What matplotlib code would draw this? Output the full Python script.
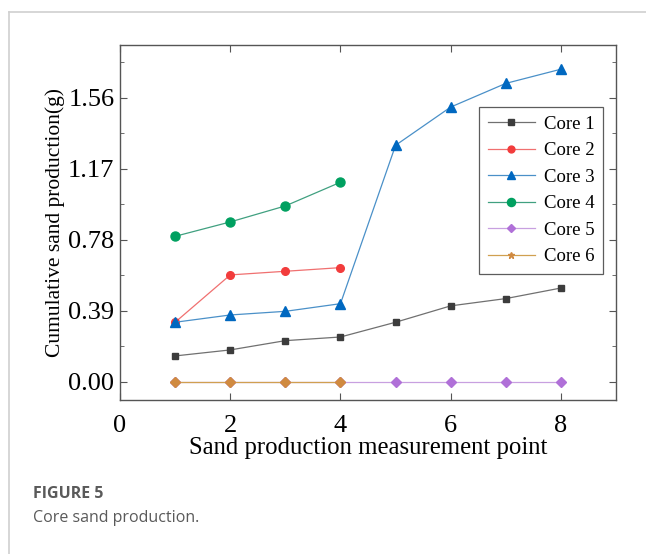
import numpy as np
import matplotlib
matplotlib.use("Agg")
import matplotlib.pyplot as plt
from matplotlib.lines import Line2D
from matplotlib.ticker import MultipleLocator

# data
points = [1, 2, 3, 4, 5, 6, 7, 8]
core1 = [0.143, 0.176, 0.227, 0.247, 0.328, 0.418, 0.458, 0.516]
core2 = [0.328, 0.588, 0.608, 0.628]
core3 = [0.328, 0.368, 0.388, 0.430, 1.300, 1.510, 1.640, 1.718]
core4 = [0.800, 0.879, 0.967, 1.097]
core5 = [0, 0, 0, 0, 0, 0, 0, 0]
core6 = [0, 0, 0, 0]
labels = ["Core 1", "Core 2", "Core 3", "Core 4", "Core 5", "Core 6"]
yticks = [0.00, 0.39, 0.78, 1.17, 1.56]

plt.rcParams['font.family'] = ['Liberation Serif', 'DejaVu Serif']

fig = plt.figure(figsize=(6.46, 5.54), dpi=100)
ax = fig.add_axes([0.1858, 0.278, 0.7678, 0.6408])

series = [
    (points, core1, 's', '#3c3c3c', '#707070', 5),
    (points[:4], core2, 'o', '#f23c3c', '#f07070', 5.5),
    (points, core3, '^', '#0068c0', '#4a90c8', 6.5),
    (points[:4], core4, 'o', '#00a060', '#40a080', 6.5),
    (points, core5, 'D', '#b070d8', '#c8a0e0', 5),
    (points[:4], core6, 'D', '#d08a40', '#d0a050', 5),
]
handles = []
for (x, y, m, mc, lc, ms), lab in zip(series, labels):
    ax.plot(x, y, color=lc, lw=0.9, marker=m, ms=ms, mfc=mc, mec=mc)
    mk = '*' if lab == "Core 6" else m
    handles.append(Line2D([], [], color=lc, lw=0.9, marker=mk, ms=ms * 0.9,
                          mfc=mc, mec=mc, label=lab))

ax.set_xlim(0, 9)
ax.set_ylim(-0.099, 1.851)
ax.set_xticks([0, 2, 4, 6, 8])
ax.set_yticks(yticks)
ax.set_yticklabels(["%.2f" % v for v in yticks])
ax.yaxis.set_minor_locator(MultipleLocator(0.195))
ax.tick_params(which='both', direction='in', top=True, right=True,
               labelsize=19, color='#555555', pad=4)
ax.tick_params(axis='x', pad=11)
ax.tick_params(which='major', length=5)
ax.tick_params(which='minor', length=3)
for s in ax.spines.values():
    s.set_color('#555555')
    s.set_linewidth(1.0)

ax.set_xlabel("Sand production measurement point", fontsize=17.8, labelpad=0)
ax.set_ylabel("Cumulative sand production(g)", fontsize=15.5, labelpad=2)

leg = ax.legend(handles=handles, loc='upper right', bbox_to_anchor=(0.974, 0.825),
                borderaxespad=0, fontsize=13.5, frameon=True, fancybox=False,
                edgecolor='#333333', handlelength=2.5, labelspacing=0.5,
                borderpad=0.45, handletextpad=0.5)
leg.get_frame().set_linewidth(0.9)

# card border and caption
fig.add_artist(Line2D([9 / 646, 1], [1 - 12 / 554, 1 - 12 / 554], color='#d0d0d0', lw=1.2))
fig.add_artist(Line2D([9 / 646, 9 / 646], [0, 1 - 12 / 554], color='#d0d0d0', lw=1.2))
fig.text(33 / 646, 1 - 494 / 554, "FIGURE 5", fontsize=11.5, fontweight='bold',
         color='#5a5a5a', family=['Open Sans', 'DejaVu Sans'], va='center')
fig.text(33 / 646, 1 - 518 / 554, "Core sand production.", fontsize=11.5,
         color='#5a5a5a', family=['Open Sans', 'DejaVu Sans'], va='center')

fig.savefig("out.png", dpi=100)
